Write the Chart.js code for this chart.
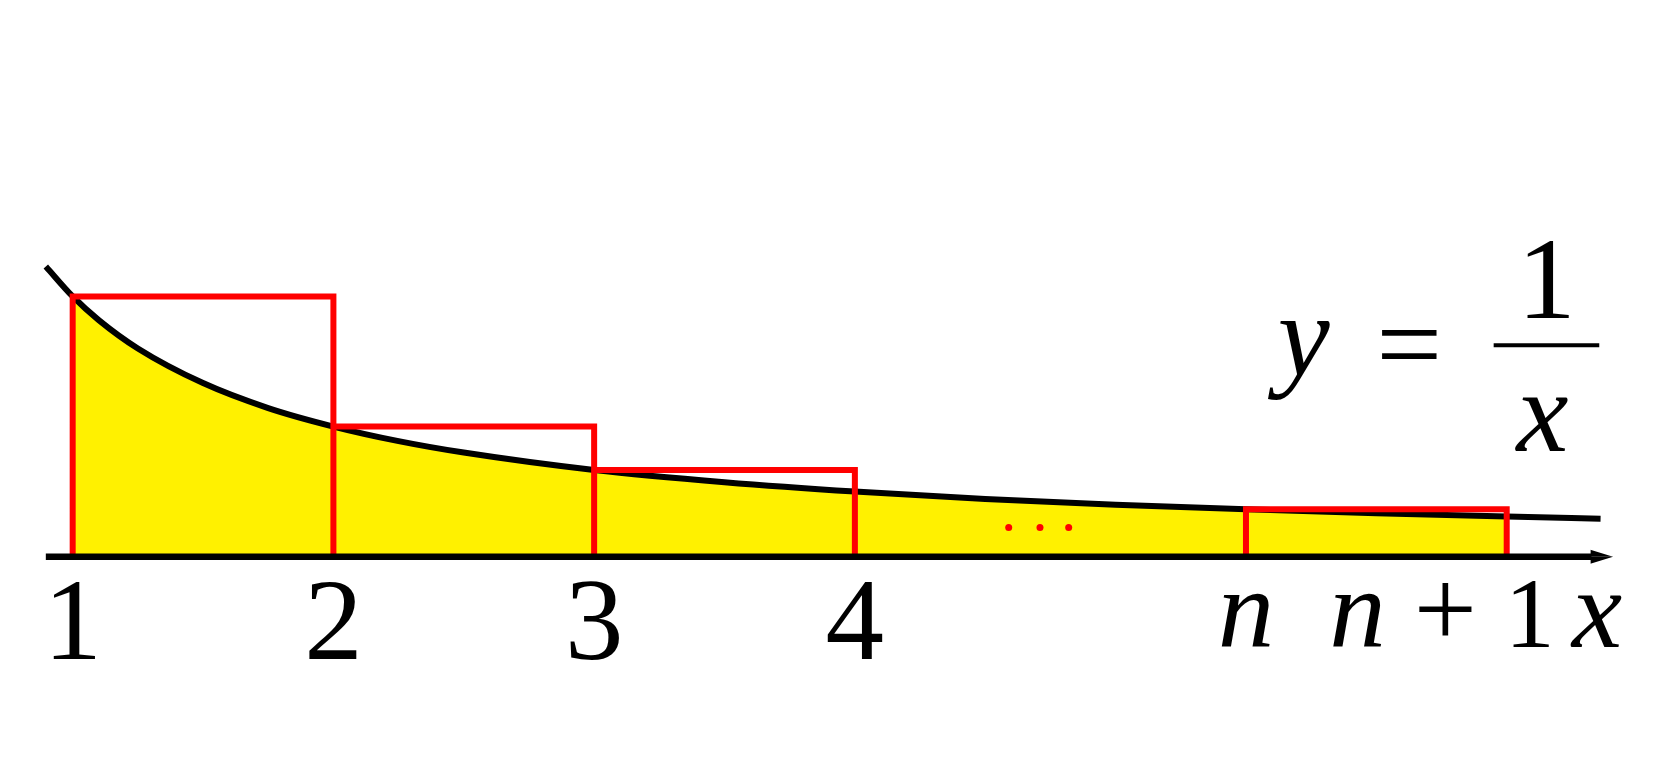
<!DOCTYPE html>
<html>
<head>
<meta charset="utf-8">
<script src="https://cdn.jsdelivr.net/npm/chart.js@4.4.1/dist/chart.umd.min.js"></script>
<style>
  html, body { margin: 0; padding: 0; background: #ffffff; }
  #wrap { width: 1654px; height: 768px; position: relative; }
</style>
</head>
<body>
<div id="wrap"><canvas id="c"></canvas></div>
<script>
// ---- data ----
const curveX = [0.897, 1, 1.1, 1.25, 1.5, 1.75, 2, 2.25, 2.5, 3, 3.5, 4, 4.5, 5, 5.5, 6, 6.5, 6.86];
const curveY = [1.115, 1, 0.909, 0.8, 0.667, 0.571, 0.5, 0.444, 0.4, 0.333, 0.286, 0.25, 0.222, 0.2, 0.182, 0.167, 0.154, 0.146];
const fillFrom = 1;
const fillTo = 6.5;

const rectLeft  = [1, 2, 3, 5.5];
const rectRight = [2, 3, 4, 6.5];
const rectTop   = [1, 0.5, 0.333, 0.182];

const dotX = [4.59, 4.71, 4.82];
const dotY = [0.112, 0.112, 0.112];

const axisStart = 0.897;
const axisEnd = 6.825;
const arrowTip = 6.908;
const arrowHalf = 0.027;

const tickPos    = [1, 2, 3, 4, 5.5, 6.252, 6.847];
const tickLabels = ['1', '2', '3', '4', 'n', 'n + 1', 'x'];
const digitBaseline = -0.3935;
const letterBaseline = -0.348;

// formula y = 1/x (positions in data units)
const formulaY = { x: 5.721, y: 0.698 };
const formulaEq = { x: 6.126, y: 0.816 };
const fracBarX = [6.45, 6.855];
const fracBarY = 0.812;
const numer = { t: '1', x: 6.653, y: 0.918 };
const denom = { t: 'x', x: 6.637, y: 0.405 };

// ---- build datasets ----
const curvePts = curveX.map((x, i) => ({ x, y: curveY[i] }));
const fillPts = curvePts.filter(p => p.x >= fillFrom && p.x <= fillTo);

const rectPts = [];
rectLeft.forEach((l, i) => {
  rectPts.push({ x: l, y: 0 }, { x: l, y: rectTop[i] }, { x: rectRight[i], y: rectTop[i] }, { x: rectRight[i], y: 0 }, { x: NaN, y: NaN });
});

const YELLOW = '#fff100';
const RED = '#ff0000';

const labelPlugin = {
  id: 'labels',
  afterDraw(chart) {
    const ctx = chart.ctx;
    const xs = chart.scales.x, ys = chart.scales.y;
    const SERIF = '"Liberation Serif", "Times New Roman", serif';
    function runs(text) {
      return text.match(/[a-z]+|[0-9]+|[^a-z0-9]+/g).map(t => ({ t, kind: /[a-z]/.test(t) ? 'it' : (/[0-9]/.test(t) ? 'num' : 'sym') }));
    }
    function drawRuns(text, cx, by, size, itSize, symSize) {
      ctx.save();
      ctx.fillStyle = '#000';
      ctx.textBaseline = 'alphabetic';
      ctx.textAlign = 'left';
      const rs = runs(text);
      let total = 0;
      const f = r => r.kind === 'it' ? ('italic ' + itSize + 'px ' + SERIF) : ((r.kind === 'sym' ? symSize : size) + 'px ' + SERIF);
      rs.forEach(r => { ctx.font = f(r); r.w = ctx.measureText(r.t).width; total += r.w; });
      let x = cx - total / 2;
      rs.forEach(r => { ctx.font = f(r); ctx.fillText(r.t, x, by); x += r.w; });
      ctx.restore();
    }
    tickPos.forEach((v, i) => {
      const lab = tickLabels[i];
      const hasLetter = /[a-z]/.test(lab);
      if (hasLetter) {
        drawRuns(lab, xs.getPixelForValue(v), ys.getPixelForValue(letterBaseline), 100, 113, 112);
      } else {
        drawRuns(lab, xs.getPixelForValue(v), ys.getPixelForValue(digitBaseline), 117, 117, 117);
      }
    });
    drawRuns('y', xs.getPixelForValue(formulaY.x), ys.getPixelForValue(formulaY.y), 117, 117, 117);
    ctx.save();
    ctx.font = '117px ' + SERIF;
    ctx.fillStyle = '#000';
    ctx.textAlign = 'center';
    ctx.textBaseline = 'alphabetic';
    const m = ctx.measureText('=');
    const midOff = (m.actualBoundingBoxAscent - m.actualBoundingBoxDescent) / 2;
    ctx.fillText('=', xs.getPixelForValue(formulaEq.x), ys.getPixelForValue(formulaEq.y) + midOff);
    ctx.restore();
    drawRuns(numer.t, xs.getPixelForValue(numer.x), ys.getPixelForValue(numer.y), 117, 117, 117);
    drawRuns(denom.t, xs.getPixelForValue(denom.x), ys.getPixelForValue(denom.y), 117, 117, 117);
  }
};

new Chart(document.getElementById('c'), {
  type: 'scatter',
  data: {
    datasets: [
      { // yellow area
        type: 'line', data: fillPts, order: 7,
        borderWidth: 0, borderColor: 'rgba(0,0,0,0)', backgroundColor: YELLOW,
        fill: 'origin', pointRadius: 0, cubicInterpolationMode: 'monotone'
      },
      { // curve 1/x
        type: 'line', data: curvePts, order: 6,
        borderWidth: 6, borderColor: '#000', fill: false, pointRadius: 0,
        cubicInterpolationMode: 'monotone', borderCapStyle: 'butt'
      },
      { // rectangles
        type: 'line', data: rectPts, order: 5, spanGaps: false,
        borderWidth: 6, borderColor: RED, fill: false, pointRadius: 0,
        tension: 0, borderJoinStyle: 'miter'
      },
      { // x axis line
        type: 'line', data: [{ x: axisStart, y: 0 }, { x: axisEnd, y: 0 }], order: 4,
        borderWidth: 6.5, borderColor: '#000', fill: false, pointRadius: 0, tension: 0
      },
      { // arrow head, upper half
        type: 'line', data: [{ x: axisEnd - 0.004, y: arrowHalf }, { x: arrowTip, y: 0 }], order: 3,
        borderWidth: 0, borderColor: 'rgba(0,0,0,0)', backgroundColor: '#000', fill: 'origin', pointRadius: 0, tension: 0
      },
      { // arrow head, lower half
        type: 'line', data: [{ x: axisEnd - 0.004, y: -arrowHalf }, { x: arrowTip, y: 0 }], order: 3,
        borderWidth: 0, borderColor: 'rgba(0,0,0,0)', backgroundColor: '#000', fill: 'origin', pointRadius: 0, tension: 0
      },
      { // fraction bar of the formula
        type: 'line', data: fracBarX.map(x => ({ x, y: fracBarY })), order: 3,
        borderWidth: 4, borderColor: '#000', fill: false, pointRadius: 0, tension: 0
      },
      { // dots
        type: 'scatter', data: dotX.map((x, i) => ({ x, y: dotY[i] })), order: 1,
        pointRadius: 3.5, pointBackgroundColor: RED, pointBorderWidth: 0, showLine: false
      }
    ]
  },
  options: {
    responsive: true,
    maintainAspectRatio: false,
    animation: false,
    events: [],
    layout: { padding: 0 },
    plugins: { legend: { display: false }, tooltip: { enabled: false } },
    scales: {
      x: { type: 'linear', min: 0.7366, max: 7.0496, display: false },
      y: { type: 'linear', min: -0.7966, max: 2.1236, display: false }
    }
  },
  plugins: [labelPlugin]
});
</script>
</body>
</html>
